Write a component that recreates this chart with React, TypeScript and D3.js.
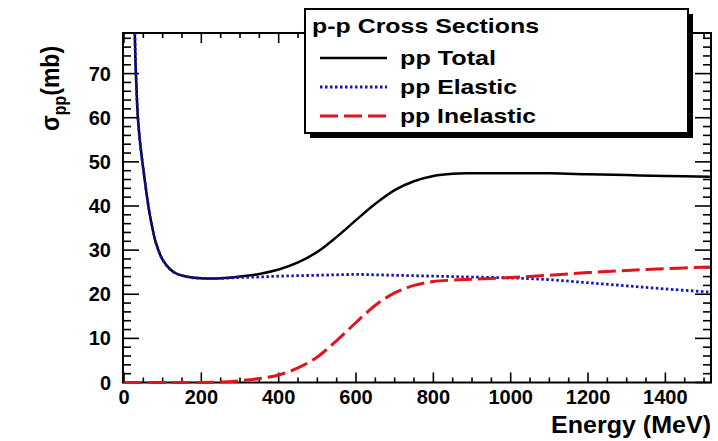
import React from "react";
import * as d3 from "d3";

const energy = [20, 25, 28, 30, 36, 42, 49, 55, 62, 70, 83, 100, 120, 135, 160, 200, 250, 300, 350, 400, 450, 500, 550, 600, 650, 700, 750, 800, 850, 900, 1000, 1100, 1200, 1300, 1400, 1515];
const totalXS = [120, 90, 79, 72, 60, 54, 49, 45, 40.6, 36.5, 31.5, 27.8, 25.6, 24.7, 24, 23.6, 23.6, 24, 24.6, 25.6, 27.2, 29.6, 33, 36.8, 40.5, 43.6, 45.6, 46.8, 47.3, 47.4, 47.4, 47.4, 47.2, 47, 46.8, 46.6];
const elasticXS = [120, 90, 79, 72, 60, 54, 49, 45, 40.6, 36.5, 31.5, 27.8, 25.6, 24.7, 24, 23.6, 23.6, 23.8, 23.9, 24.1, 24.2, 24.3, 24.4, 24.5, 24.4, 24.3, 24.2, 24.1, 24.0, 23.9, 23.7, 23.3, 22.6, 21.9, 21.2, 20.5];
const inelasticEnergy = [0, 100, 200, 250, 300, 350, 400, 450, 500, 550, 600, 650, 700, 750, 800, 850, 900, 1000, 1100, 1200, 1300, 1400, 1515];
const inelasticXS = [0, 0, 0, 0.1, 0.4, 0.9, 1.7, 3.3, 5.8, 9.5, 13.6, 17.5, 20.3, 22.0, 22.9, 23.2, 23.4, 23.8, 24.3, 24.9, 25.4, 25.8, 26.2];

const xTicks = [0, 200, 400, 600, 800, 1000, 1200, 1400];
const yTicks = [0, 10, 20, 30, 40, 50, 60, 70];
const legendTitle = "p-p Cross Sections";
const seriesNames = ["pp Total", "pp Elastic", "pp Inelastic"];

const W = 718, H = 441;
const L = 123, R = 711, T = 33, B = 382.5;
const font = "'Liberation Sans', Arial, Helvetica, sans-serif";

export default function App() {
  const x = d3.scaleLinear().domain([0, 1518]).range([124, R]);
  const y = d3.scaleLinear().domain([0, 79.2]).range([B, T]);
  const line = d3.line<[number, number]>().x(d => x(d[0])).y(d => y(d[1])).curve(d3.curveCatmullRom.alpha(0.5));

  const totalPath = line(energy.map((e, i) => [e, totalXS[i]]) as [number, number][]) || "";
  const elasticPath = line(energy.map((e, i) => [e, elasticXS[i]]) as [number, number][]) || "";
  const inelPath = line(inelasticEnergy.map((e, i) => [e, inelasticXS[i]]) as [number, number][]) || "";

  const xMinor = d3.range(0, 1501, 50);
  const yMinor = d3.range(0, 79, 2);

  const styles = [
    { stroke: "#000", dash: "none", w: 2.5 },
    { stroke: "#1212c8", dash: "2.5,2.5", w: 2.8 },
    { stroke: "#e0141a", dash: "18,6", w: 3 },
  ];
  const paths = [totalPath, elasticPath, inelPath];
  const legendBase = [65, 94, 123];
  const legendWidths = [96, 117, 136];

  return (
    <svg width={W} height={H} style={{ position: "absolute", left: 0, top: 0, background: "#fff" }} fontFamily={font}>
      <rect x={0} y={0} width={W} height={H} fill="#fff" />
      <defs>
        <clipPath id="plotclip">
          <rect x={L} y={T} width={R - L} height={B - T + 2} />
        </clipPath>
      </defs>
      <g stroke="#000" strokeWidth={1.6}>
        {xMinor.map(v => {
          const major = v % 200 === 0;
          const len = major ? 10 : 5;
          return (
            <g key={"x" + v}>
              <line x1={x(v)} x2={x(v)} y1={B} y2={B - len} />
              <line x1={x(v)} x2={x(v)} y1={T} y2={T + len} />
            </g>
          );
        })}
        {yMinor.map(v => {
          const major = v % 10 === 0;
          const len = major ? 16 : 8;
          return (
            <g key={"y" + v}>
              <line x1={L} x2={L + len} y1={y(v)} y2={y(v)} />
              <line x1={R} x2={R - len} y1={y(v)} y2={y(v)} />
            </g>
          );
        })}
      </g>
      <rect x={L} y={T} width={R - L} height={B - T} fill="none" stroke="#000" strokeWidth={2} />
      <g clipPath="url(#plotclip)" fill="none">
        {paths.map((p, i) => (
          <path key={i} d={p} stroke={styles[i].stroke} strokeWidth={styles[i].w} strokeDasharray={styles[i].dash} />
        ))}
      </g>
      <g fontSize={20} fontWeight="bold" fill="#000">
        {xTicks.map(v => (
          <text key={"xl" + v} x={x(v)} y={404} textAnchor="middle">{v}</text>
        ))}
        {yTicks.map(v => (
          <text key={"yl" + v} x={111} y={y(v) + 7} textAnchor="end">{v}</text>
        ))}
      </g>
      <text x={711} y={433} textAnchor="end" fontSize={24} fontWeight="bold" textLength={160} lengthAdjust="spacingAndGlyphs">Energy (MeV)</text>
      <g transform="translate(59,131) rotate(-90) scale(1,1.15)">
        <text x={0} y={0} fontSize={23} fontWeight="bold">
          σ<tspan fontSize={16} dy={6}>pp</tspan><tspan dy={-6}>(mb)</tspan>
        </text>
      </g>
      <rect x={310} y={14} width={383} height={124} fill="#000" />
      <rect x={305} y={9} width={383} height={124} fill="#fff" stroke="#000" strokeWidth={2} />
      <text x={312} y={33} fontSize={21} fontWeight="bold" textLength={227} lengthAdjust="spacingAndGlyphs">{legendTitle}</text>
      {seriesNames.map((n, i) => (
        <g key={n}>
          <line x1={320} x2={387} y1={legendBase[i] - 7} y2={legendBase[i] - 7} stroke={styles[i].stroke} strokeWidth={styles[i].w} strokeDasharray={styles[i].dash} />
          <text x={400} y={legendBase[i]} fontSize={21} fontWeight="bold" textLength={legendWidths[i]} lengthAdjust="spacingAndGlyphs">{n}</text>
        </g>
      ))}
    </svg>
  );
}
